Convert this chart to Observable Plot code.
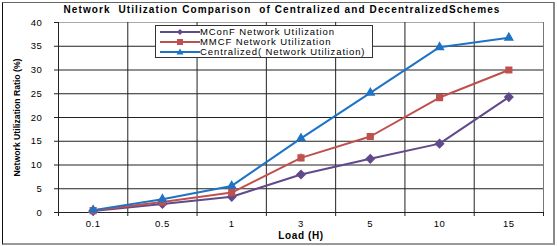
<!DOCTYPE html>
<html><head><meta charset="utf-8">
<script src="https://cdn.jsdelivr.net/npm/d3@7"></script>
<script src="https://cdn.jsdelivr.net/npm/@observablehq/plot@0.6"></script>
<style>
body{margin:0;background:#fff;font-family:"Liberation Sans",Arial,sans-serif;}
#wrap{position:relative;width:557px;height:246px;}
#frame{position:absolute;left:2px;top:2px;width:550px;height:240px;border-left:1px solid #111;border-top:1px solid #666;border-right:2px solid #888;border-bottom:2px solid #999;box-sizing:content-box;pointer-events:none;}
#title{position:absolute;left:0;width:564px;top:4px;text-align:center;font-weight:bold;font-size:10px;letter-spacing:1.1px;white-space:pre;}
#legend{position:absolute;left:155px;top:25px;width:216px;height:31px;border:1px solid #333;background:#fff;font-size:9.5px;letter-spacing:0.9px;}
#legend .row{position:absolute;left:4px;height:10px;line-height:10px;white-space:pre;}
.ylab text{letter-spacing:0;}
</style></head>
<body><div id="wrap"><div id="chart"></div><div id="title"></div><div id="legend"></div><div id="frame"></div></div>
<script>
const categories = ["0.1","0.5","1","3","5","10","15"];
const seriesNames = ["MConF Network Utilization","MMCF Network Utilization","Centralized( Network Utilization)"];
const mconf = [0.3, 1.8, 3.3, 8.0, 11.3, 14.5, 24.3];
const mmcf = [0.4, 2.2, 4.2, 11.5, 16.0, 24.2, 30.0];
const centralized = [0.5, 2.8, 5.6, 15.6, 25.2, 34.8, 36.8];
const errMconf = [0.2, 0.3, 0.3, 0.5, 0.5, 0.4, 0.5];
const errMmcf = [0.2, 0.3, 0.3, 0.8, 0.4, 0.4, 0.4];
const errCent = [0.2, 0.3, 0.4, 0.6, 0.4, 0.6, 0.5];
const yTicks = [0,5,10,15,20,25,30,35,40];
const titleText = "Network  Utilization Comparison  of Centralized and DecentralizedSchemes";

const colors = ["#604a8b","#c0504d","#1f73c6"];
const symbols = ["diamond2","square2","triangle2"];
const seriesVals = [mconf, mmcf, centralized];
const seriesErr = [errMconf, errMmcf, errCent];

const data = [];
seriesVals.forEach((vals, s) => vals.forEach((v, i) => data.push({s: seriesNames[s], i, v, e: seriesErr[s][i]})));

const bounds = d3.range(categories.length + 1).map(k => k - 0.5);
const lastB = bounds[bounds.length - 1];
const topY = yTicks[yTicks.length - 1];

const plot = Plot.plot({
  width: 557, height: 246,
  marginLeft: 58, marginRight: 14, marginTop: 22, marginBottom: 34,
  style: {fontFamily: "Liberation Sans, Arial, sans-serif", fontSize: "9.5px", color: "#000", background: "transparent", letterSpacing: "0.6px"},
  x: {type: "linear", domain: [-0.5, categories.length - 0.5]},
  y: {type: "linear", domain: [0, 40]},
  color: {domain: seriesNames, range: colors},
  symbol: {domain: seriesNames, range: symbols},
  marks: [
    Plot.ruleY(yTicks, {stroke: d => d === topY ? "#aaa" : "#222", strokeWidth: 1}),
    Plot.ruleX(bounds, {stroke: d => d === lastB ? "#777" : "#222", strokeWidth: 1}),
    Plot.axisY({ticks: yTicks, tickSize: 4, tickPadding: 12, label: null, tickFormat: d => d, stroke: "#222"}),
    Plot.axisX({ticks: bounds, tickSize: 4, tickFormat: () => "", label: null, stroke: "#222"}),
    Plot.axisX({ticks: d3.range(categories.length), tickFormat: i => categories[i], tickSize: 0, tickPadding: 8, label: null}),
    Plot.line(data, {x: "i", y: "v", z: "s", stroke: "s", strokeWidth: 2}),
    Plot.ruleX(data, {x: "i", y1: d => d.v - d.e, y2: d => d.v + d.e, stroke: "#222", strokeWidth: 1}),
    Plot.dot(data, {x: "i", y: "v", symbol: "s", fill: "s", stroke: "s", r: 3.6}),
    Plot.text(["Load (H)"], {frameAnchor: "bottom", dy: 26, fontWeight: "bold", fontSize: 10, letterSpacing: 0.8}),
    Plot.text(["Network Utilization Ratio (%)"], {frameAnchor: "left", dx: -42, rotate: -90, textAnchor: "middle", fontWeight: "bold", fontSize: 9.5, className: "ylab"})
  ]
});
document.getElementById("chart").appendChild(plot);
const yl = plot.querySelector(".ylab text");
if (yl) { yl.setAttribute("textLength", "118"); yl.setAttribute("lengthAdjust", "spacingAndGlyphs"); }
document.getElementById("title").textContent = titleText;

const leg = document.getElementById("legend");
seriesNames.forEach((n, k) => {
  const row = document.createElement("div");
  row.className = "row";
  row.style.top = (1 + k * 10) + "px";
  const sym = k === 0 ? `<path d="M20,2 L23,5 L20,8 L17,5Z" fill="${colors[k]}"/>`
    : k === 1 ? `<rect x="17" y="2" width="6" height="6" fill="${colors[k]}"/>`
    : `<path d="M20,1.5 L23.5,7.5 L16.5,7.5Z" fill="${colors[k]}"/>`;
  row.innerHTML = `<svg width="40" height="10" style="vertical-align:top"><line x1="0" x2="40" y1="5" y2="5" stroke="${colors[k]}" stroke-width="2"/>${sym}</svg><span>${n}</span>`;
  leg.appendChild(row);
});
</script></body></html>
